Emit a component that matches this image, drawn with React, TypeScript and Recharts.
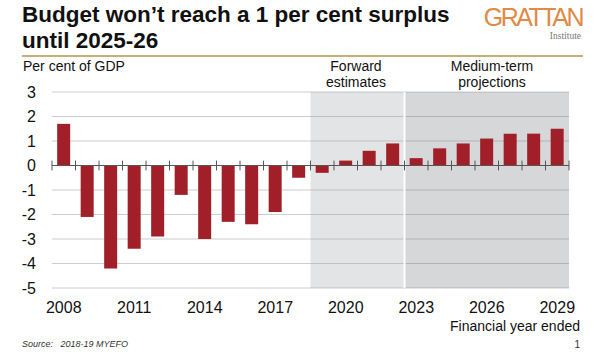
import { Bar, BarChart, CartesianGrid, ReferenceArea, ReferenceLine, XAxis, YAxis } from "recharts";

const years = [
  "2008", "2009", "2010", "2011", "2012", "2013", "2014", "2015", "2016", "2017", "2018",
  "2019", "2020", "2021", "2022", "2023", "2024", "2025", "2026", "2027", "2028", "2029",
];
const balance = [
  1.7, -2.1, -4.2, -3.4, -2.9, -1.2, -3.0, -2.3, -2.4, -1.9, -0.5,
  -0.3, 0.2, 0.6, 0.9, 0.3, 0.7, 0.9, 1.1, 1.3, 1.3, 1.5,
];
const yTicks = [-5, -4, -3, -2, -1, 0, 1, 2, 3];
const forwardRange = ["2019", "2022"];
const mediumRange = ["2023", "2029"];

const rows = years.map((year, i) => ({ year, value: balance[i] }));

const font = "'Liberation Sans', Arial, sans-serif";

export default function App() {
  return (
    <div style={{ position: "absolute", left: 0, top: 0, width: 600, height: 357, background: "#fff", fontFamily: font }}>
      <div style={{ position: "absolute", left: 22, top: 2, fontSize: 22.5, fontWeight: 700, lineHeight: "26px", color: "#111" }}>
        Budget won’t reach a 1 per cent surplus
        <br />
        until 2025-26
      </div>
      <div style={{ position: "absolute", right: 18, top: 5, fontSize: 25, color: "#e08a45", letterSpacing: -2.5, lineHeight: "25px" }}>
        GRATTAN
      </div>
      <div style={{ position: "absolute", right: 19, top: 31, fontSize: 9.5, lineHeight: "10px", color: "#777", fontFamily: "'Liberation Serif', serif" }}>
        Institute
      </div>
      <div style={{ position: "absolute", left: 22, top: 55, width: 561, height: 2, background: "#c9ad7a" }} />
      <div style={{ position: "absolute", left: 23, top: 58, fontSize: 14, lineHeight: "16px", color: "#111" }}>Per cent of GDP</div>
      <div style={{ position: "absolute", left: 306, top: 58, width: 100, textAlign: "center", fontSize: 14, lineHeight: "16px", color: "#111" }}>
        Forward
        <br />
        estimates
      </div>
      <div style={{ position: "absolute", left: 432, top: 58, width: 120, textAlign: "center", fontSize: 14, lineHeight: "16px", color: "#111" }}>
        Medium-term
        <br />
        projections
      </div>
      <div style={{ position: "absolute", right: 20, top: 318, fontSize: 14, color: "#111" }}>Financial year ended</div>
      <div style={{ position: "absolute", left: 22, top: 339, fontSize: 9, fontStyle: "italic", color: "#333" }}>
        Source:&nbsp;&nbsp;&nbsp;2018-19 MYEFO
      </div>
      <div style={{ position: "absolute", right: 20, top: 339, fontSize: 10, color: "#333" }}>1</div>

      <div style={{ position: "absolute", left: 0, top: 0 }}>
        <BarChart width={600} height={357} data={rows} margin={{ top: 92, right: 31, bottom: 39, left: 0 }} barCategoryGap="22%">
          <CartesianGrid vertical={false} stroke="#cccccc" />
          <ReferenceArea x1={forwardRange[0]} x2={forwardRange[1]} y1={-5} y2={3} fill="#a2a5aa" fillOpacity={0.3} stroke="none" />
          <ReferenceArea x1={mediumRange[0]} x2={mediumRange[1]} y1={-5} y2={3} fill="#757a82" fillOpacity={0.3} stroke="none" />
          <XAxis
            dataKey="year"
            interval={2}
            axisLine={false}
            tickLine={false}
            tickMargin={8}
            height={30}
            tick={{ fontSize: 16, fill: "#111", fontFamily: font }}
          />
          <YAxis
            width={52}
            domain={[-5, 3]}
            ticks={yTicks}
            axisLine={false}
            tickLine={false}
            tickMargin={10}
            tick={{ fontSize: 16, fill: "#111", fontFamily: font }}
          />
          <ReferenceLine x={mediumRange[0]} position="start" stroke="#fff" strokeWidth={2} />
          <Bar dataKey="value" fill="#a01f28" isAnimationActive={false} />
          <ReferenceLine y={0} stroke="#555" />
          {years.map((y) => (
            <ReferenceLine key={y} segment={[{ x: y, y: 0.2 }, { x: y, y: -0.2 }]} position="start" stroke="#555" />
          ))}
          <ReferenceLine
            segment={[{ x: years[years.length - 1], y: 0.2 }, { x: years[years.length - 1], y: -0.2 }]}
            position="end"
            stroke="#555"
          />
        </BarChart>
      </div>
    </div>
  );
}
